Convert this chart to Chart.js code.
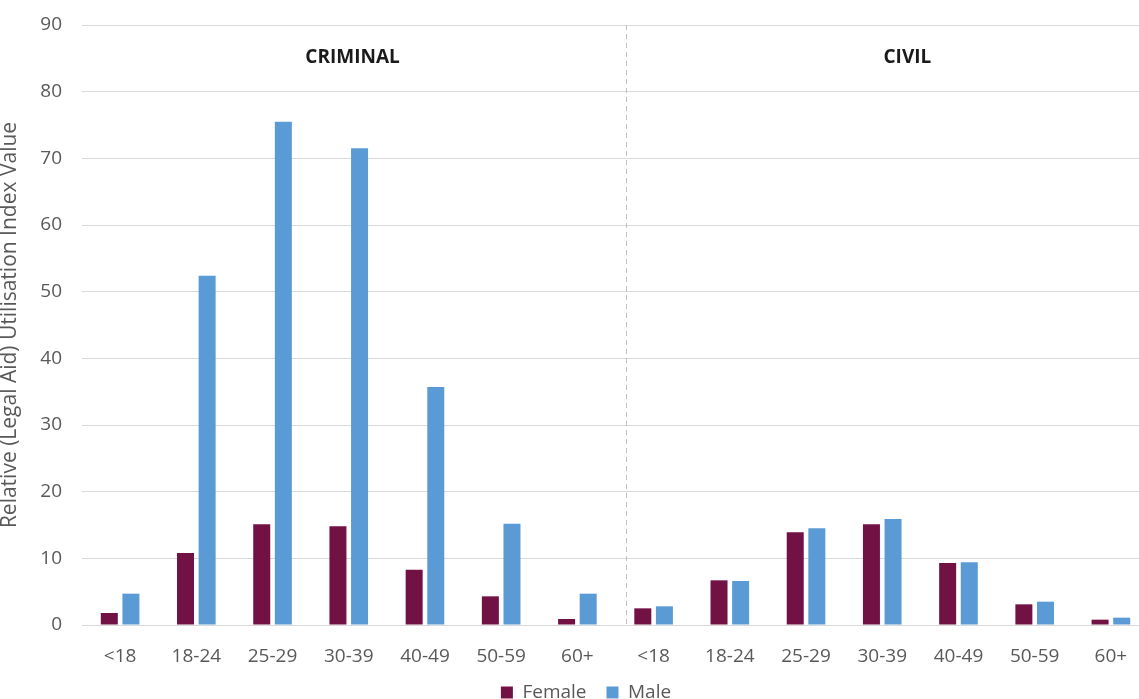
<!DOCTYPE html>
<html>
<head>
<meta charset="utf-8">
<title>Relative Legal Aid Utilisation Index</title>
<script src="https://cdn.jsdelivr.net/npm/chart.js@4.4.1/dist/chart.umd.min.js"></script>
<style>
    html, body { margin: 0; padding: 0; background: #fff; overflow: hidden; }
    /* the reference is cropped on the right and bottom, so the canvas is a bit bigger than the window */
    #wrap { width: 1149px; height: 712px; }
</style>
</head>
<body>
<div id="wrap"><canvas id="chart"></canvas></div>
<script>
// Data
const ageGroups = ['<18', '18-24', '25-29', '30-39', '40-49', '50-59', '60+'];
const sections = ['CRIMINAL', 'CIVIL'];
const criminalFemale = [1.8, 10.8, 15.1, 14.8, 8.3, 4.3, 0.9];
const criminalMale = [4.7, 52.4, 75.5, 71.5, 35.7, 15.2, 4.7];
const civilFemale = [2.5, 6.7, 13.9, 15.1, 9.3, 3.1, 0.8];
const civilMale = [2.8, 6.6, 14.5, 15.9, 9.4, 3.5, 1.1];
const yTicks = [0, 10, 20, 30, 40, 50, 60, 70, 80, 90];

const labels = ageGroups.concat(ageGroups);
const femaleData = criminalFemale.concat(civilFemale);
const maleData = criminalMale.concat(civilMale);

const FONT = "'Open Sans', 'Noto Sans', sans-serif";
const GREY = '#595959';

// layout constants for the divider and section headings (in category units)
const DIVIDER_AT = 6.64;
const SECTION_LABEL_AT = [3.05, 10.33];

const sectionPlugin = {
    id: 'sections',
    beforeDatasetsDraw(chart) {
        const {ctx, chartArea, scales} = chart;
        const x = Math.round(scales.x.getPixelForValue(DIVIDER_AT)) + 0.5;
        ctx.save();
        ctx.strokeStyle = '#bfbfbf';
        ctx.lineWidth = 1;
        ctx.setLineDash([5, 4]);
        ctx.beginPath();
        ctx.moveTo(x, chartArea.top);
        ctx.lineTo(x, chartArea.bottom);
        ctx.stroke();
        ctx.restore();
    },
    afterDraw(chart) {
        const {ctx, scales} = chart;
        ctx.save();
        ctx.font = 'bold 19px ' + FONT;
        ctx.fillStyle = '#1a1a1a';
        ctx.textAlign = 'center';
        ctx.textBaseline = 'middle';
        sections.forEach((name, i) => {
            ctx.fillText(name, scales.x.getPixelForValue(SECTION_LABEL_AT[i]), 58);
        });
        ctx.restore();
    }
};

const ctx = document.getElementById('chart').getContext('2d');
window.utilChart = new Chart(ctx, {
    type: 'bar',
    data: {
        labels: labels,
        datasets: [{
            label: 'Female',
            data: femaleData,
            backgroundColor: '#721244',
            categoryPercentage: 0.567,
            barPercentage: 0.787
        }, {
            label: 'Male',
            data: maleData,
            backgroundColor: '#5b9bd5',
            categoryPercentage: 0.567,
            barPercentage: 0.787
        }]
    },
    options: {
        responsive: true,
        maintainAspectRatio: false,
        animation: false,
        layout: { padding: { top: 25, left: 23, right: 0, bottom: 0 } },
        plugins: {
            legend: {
                position: 'bottom',
                labels: {
                    boxWidth: 12,
                    boxHeight: 12,
                    padding: 20,
                    color: GREY,
                    font: { family: FONT, size: 19 }
                }
            },
            tooltip: { enabled: false }
        },
        scales: {
            x: {
                grid: { display: false },
                border: { display: false },
                ticks: {
                    color: GREY,
                    padding: 12,
                    maxRotation: 0,
                    autoSkip: false,
                    font: { family: FONT, size: 19 }
                },
                afterFit: function(scale) { scale.height = 38; }
            },
            y: {
                min: 0,
                max: 90,
                afterBuildTicks: function(scale) {
                    scale.ticks = yTicks.map(v => ({ value: v }));
                },
                grid: { color: '#d9d9d9', drawTicks: false },
                border: { display: false },
                ticks: {
                    color: GREY,
                    padding: 20,
                    font: { family: FONT, size: 19 }
                },
                title: {
                    display: true,
                    text: 'Relative (Legal Aid) Utilisation Index Value',
                    color: GREY,
                    padding: { top: -26, bottom: 0 },
                    font: { family: FONT, size: 21 }
                },
                afterFit: function(scale) {
                    scale.width = 59;
                    // keep the tick padding from pushing the plot area down
                    scale.paddingTop = 0;
                    scale.paddingBottom = 0;
                }
            }
        }
    },
    plugins: [sectionPlugin]
});
</script>
</body>
</html>
